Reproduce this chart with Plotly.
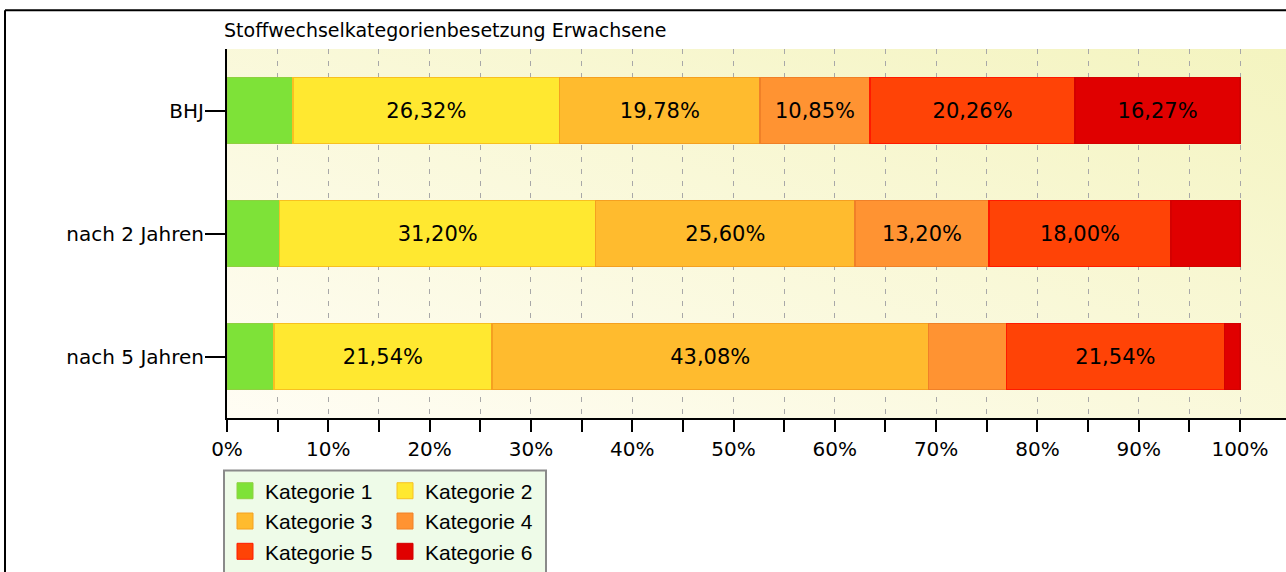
import base64
import plotly.graph_objects as go

# ---- data ----
gruppen = ["BHJ", "nach 2 Jahren", "nach 5 Jahren"]
kategorien = ["Kategorie 1", "Kategorie 2", "Kategorie 3", "Kategorie 4", "Kategorie 5", "Kategorie 6"]
kat1 = [6.52, 5.20, 4.62]
kat2 = [26.32, 31.20, 21.54]
kat3 = [19.78, 25.60, 43.08]
kat4 = [10.85, 13.20, 7.69]
kat5 = [20.26, 18.00, 21.54]
kat6 = [16.27, 6.80, 1.54]
serien = [kat1, kat2, kat3, kat4, kat5, kat6]
x_ticks = [0, 10, 20, 30, 40, 50, 60, 70, 80, 90, 100]
x_ticktext = [f"{v}%" for v in x_ticks]
titel = "Stoffwechselkategorienbesetzung Erwachsene"

# ---- style ----
fills = ["#7ee238", "#ffe830", "#ffbb2e", "#ff9332", "#ff4306", "#e00000"]
lines = ["#8fd040", "#f8c020", "#f5a020", "#f08028", "#ff1a00", "#d40000"]
FONT = "DejaVu Sans"

W, H = 1286, 572
L, T = 227, 49
PB = 421  # plot bottom (px from top)
R, B = 0, H - PB
pw, ph = W - L - R, H - T - B


def px_x(p):
    return (p - L) / pw


def px_y(p):
    return (PB - p) / ph


def label(v):
    return (f"{v:.2f}".replace(".", ",") + "%") if v >= 10 else ""


fig = go.Figure()
for i, (name, vals) in enumerate(zip(kategorien, serien)):
    fig.add_trace(go.Bar(
        y=gruppen, x=vals, name=name, orientation="h",
        marker=dict(color=fills[i], line=dict(color=lines[i], width=1.5)),
        text=[label(v) for v in vals], textposition="inside",
        insidetextanchor="middle", textangle=0, constraintext="none",
        textfont=dict(family=FONT, size=21, color="#000000"),
        hoverinfo="skip", showlegend=False,
    ))
# legend entries (square swatches)
for i, name in enumerate(kategorien):
    fig.add_trace(go.Scatter(
        x=[None], y=[None], mode="markers", name=name,
        marker=dict(symbol="square", size=16, color=fills[i], line=dict(color=lines[i], width=1)),
        legend="legend" if i % 2 == 0 else "legend2", hoverinfo="skip",
    ))

svg = ('<svg xmlns="http://www.w3.org/2000/svg" width="100" height="100" viewBox="0 0 100 100" '
       'preserveAspectRatio="none"><defs><linearGradient id="g" x1="0" y1="1" x2="1" y2="0">'
       '<stop offset="0" stop-color="#fffdf4"/><stop offset="1" stop-color="#f4f4c0"/>'
       '</linearGradient></defs><rect width="100" height="100" fill="url(#g)"/></svg>')
src = "data:image/svg+xml;base64," + base64.b64encode(svg.encode()).decode()

leg_common = dict(
    orientation="v", bgcolor="rgba(0,0,0,0)", borderwidth=0, traceorder="normal",
    font=dict(family="Liberation Sans", size=21, color="#000000"),
    tracegroupgap=0, xanchor="left", yanchor="top", itemsizing="trace",
)

fig.update_layout(
    width=W, height=H,
    margin=dict(l=L, r=R, t=T, b=B, pad=0),
    paper_bgcolor="#ffffff", plot_bgcolor="#fbfbe4",
    barmode="stack", bargap=0.46,
    font=dict(family=FONT, size=20, color="#000000"),
    showlegend=True,
    legend=dict(x=px_x(225), y=px_y(474), **leg_common),
    legend2=dict(x=px_x(385), y=px_y(474), **leg_common),
    images=[dict(source=src, xref="paper", yref="paper", x=0, y=1, sizex=1, sizey=1,
                 sizing="stretch", layer="below")],
    xaxis=dict(
        range=[0, (1286 - 227) / 10.13], tickmode="array", tickvals=x_ticks, ticktext=x_ticktext,
        ticks="outside", ticklen=12, tickwidth=2, tickcolor="#000000",
        showline=True, linecolor="#000000", linewidth=2,
        showgrid=True, gridcolor="#a8a8a8", gridwidth=1, griddash="5px,7px",
        minor=dict(dtick=5, tick0=0, ticks="outside", ticklen=12, tickwidth=2, tickcolor="#000000",
                   showgrid=True, gridcolor="#a8a8a8", gridwidth=1, griddash="5px,7px"),
        zeroline=False, fixedrange=True,
        tickfont=dict(family=FONT, size=20, color="#000000"),
    ),
    yaxis=dict(
        autorange="reversed", ticks="outside", ticklen=20, tickwidth=2, tickcolor="#000000",
        showline=True, linecolor="#000000", linewidth=2, showgrid=False, fixedrange=True,
        tickfont=dict(family=FONT, size=20, color="#000000"), ticklabelstandoff=-3,
    ),
    shapes=[
        dict(type="rect", xref="paper", yref="paper", x0=px_x(224), x1=px_x(546),
             y0=px_y(474), y1=px_y(590), fillcolor="#eefbe8", line=dict(color="#8a8a8a", width=2),
             layer="below"),
        dict(type="line", xref="paper", yref="paper", x0=px_x(5), x1=px_x(5),
             y0=px_y(10), y1=px_y(590), line=dict(color="#000000", width=2)),
        dict(type="line", xref="paper", yref="paper", x0=px_x(5), x1=px_x(1300),
             y0=px_y(10), y1=px_y(10), line=dict(color="#000000", width=2)),
    ],
    annotations=[dict(text=titel, xref="paper", yref="paper", x=px_x(222), y=px_y(30),
                      xanchor="left", yanchor="middle", showarrow=False,
                      font=dict(family=FONT, size=19, color="#000000"))],
)

fig.write_html("out.html", config={"displayModeBar": False},
               post_script="document.body.style.margin='0';")
